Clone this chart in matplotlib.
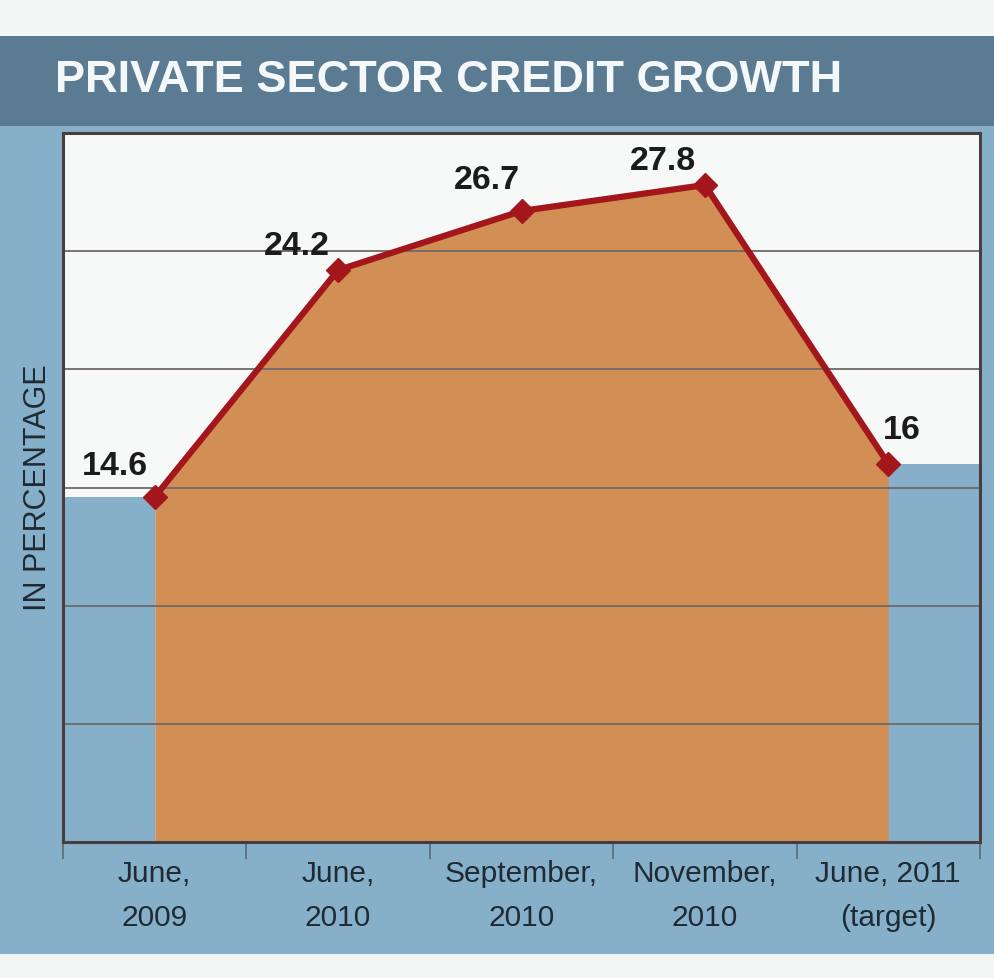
import matplotlib
matplotlib.use("Agg")
import matplotlib.pyplot as plt
from matplotlib.patches import Rectangle

# data
categories = ["June,\n2009", "June,\n2010", "September,\n2010", "November,\n2010", "June, 2011\n(target)"]
growth = [14.6, 24.2, 26.7, 27.8, 16]
labels = ["14.6", "24.2", "26.7", "27.8", "16"]
# label offsets in pixels (dx, dy) from each point
offsets = [(-40, 16), (-41, 9), (-35, 16), (-42, 9), (14, 19)]

FONT = ["Liberation Sans", "DejaVu Sans"]
BLUE = "#86b0c9"
BAND = "#5a7b91"
ORANGE = "#d18f55"
RED = "#a3161b"
DARK = "#473f3f"

fig = plt.figure(figsize=(9.94, 9.79), dpi=100, facecolor="#f3f6f5")
H = 979.0
fig.patches.append(Rectangle((0, 24 / H), 1, (955 - 127) / H, transform=fig.transFigure,
                             facecolor=BLUE, edgecolor="none", zorder=-5))
fig.patches.append(Rectangle((0, (979 - 127) / H), 1, 90 / H, transform=fig.transFigure,
                             facecolor=BAND, edgecolor="none", zorder=-5))
fig.text(55 / 994, (979 - 80) / H, "PRIVATE SECTOR CREDIT GROWTH", color="#f4f8fa",
         family=FONT, fontweight="bold", fontsize=32.5, va="center", ha="left")

ax = fig.add_axes([63 / 994, (979 - 843) / H, (980 - 63) / 994, (843 - 134) / H])
ax.set_facecolor("#f7f9f9")
x = list(range(len(growth)))

ax.set_xlim(-0.5, 4.5)
ax.set_ylim(0, 30)

# blue shoulders at either end, orange area between the points
ax.fill_between([-0.5, 0], [growth[0], growth[0]], color=BLUE, lw=0, zorder=1)
ax.fill_between([4, 4.5], [growth[-1], growth[-1]], color=BLUE, lw=0, zorder=1)
ax.fill_between(x, growth, color=ORANGE, lw=0, zorder=1)

for yv in [5, 10, 15, 20, 25]:
    ax.axhline(yv, color="#6f6a68", lw=1.3, zorder=2)

ax.plot(x, growth, color=RED, lw=4.5, marker="D", markersize=12, zorder=4)

for xi, yi, lab, (dx, dy) in zip(x, growth, labels, offsets):
    ax.annotate(lab, (xi, yi), xytext=(dx, dy), textcoords="offset pixels",
                ha="center", va="bottom", fontsize=24.5, fontweight="bold",
                family=FONT, color="#1c1c1c", zorder=5)

ax.set_xticks(x)
ax.set_xticklabels(categories, family=FONT, fontsize=21.5, color="#1f2a33", linespacing=1.75)
ax.set_xticks([-0.5, 0.5, 1.5, 2.5, 3.5, 4.5], minor=True)
ax.tick_params(axis="x", which="major", length=0, pad=12)
ax.tick_params(axis="x", which="minor", length=12, width=1.2, color="#5c6a72", direction="out")
ax.set_yticks([])

for s in ax.spines.values():
    s.set_color(DARK)
    s.set_linewidth(2.2)

fig.text(38 / 994, (979 - 488) / H, "IN PERCENTAGE", rotation=90, family=FONT,
         fontsize=22, color="#1f2a33", ha="center", va="center")

fig.savefig("out.png", dpi=100, facecolor=fig.get_facecolor())
